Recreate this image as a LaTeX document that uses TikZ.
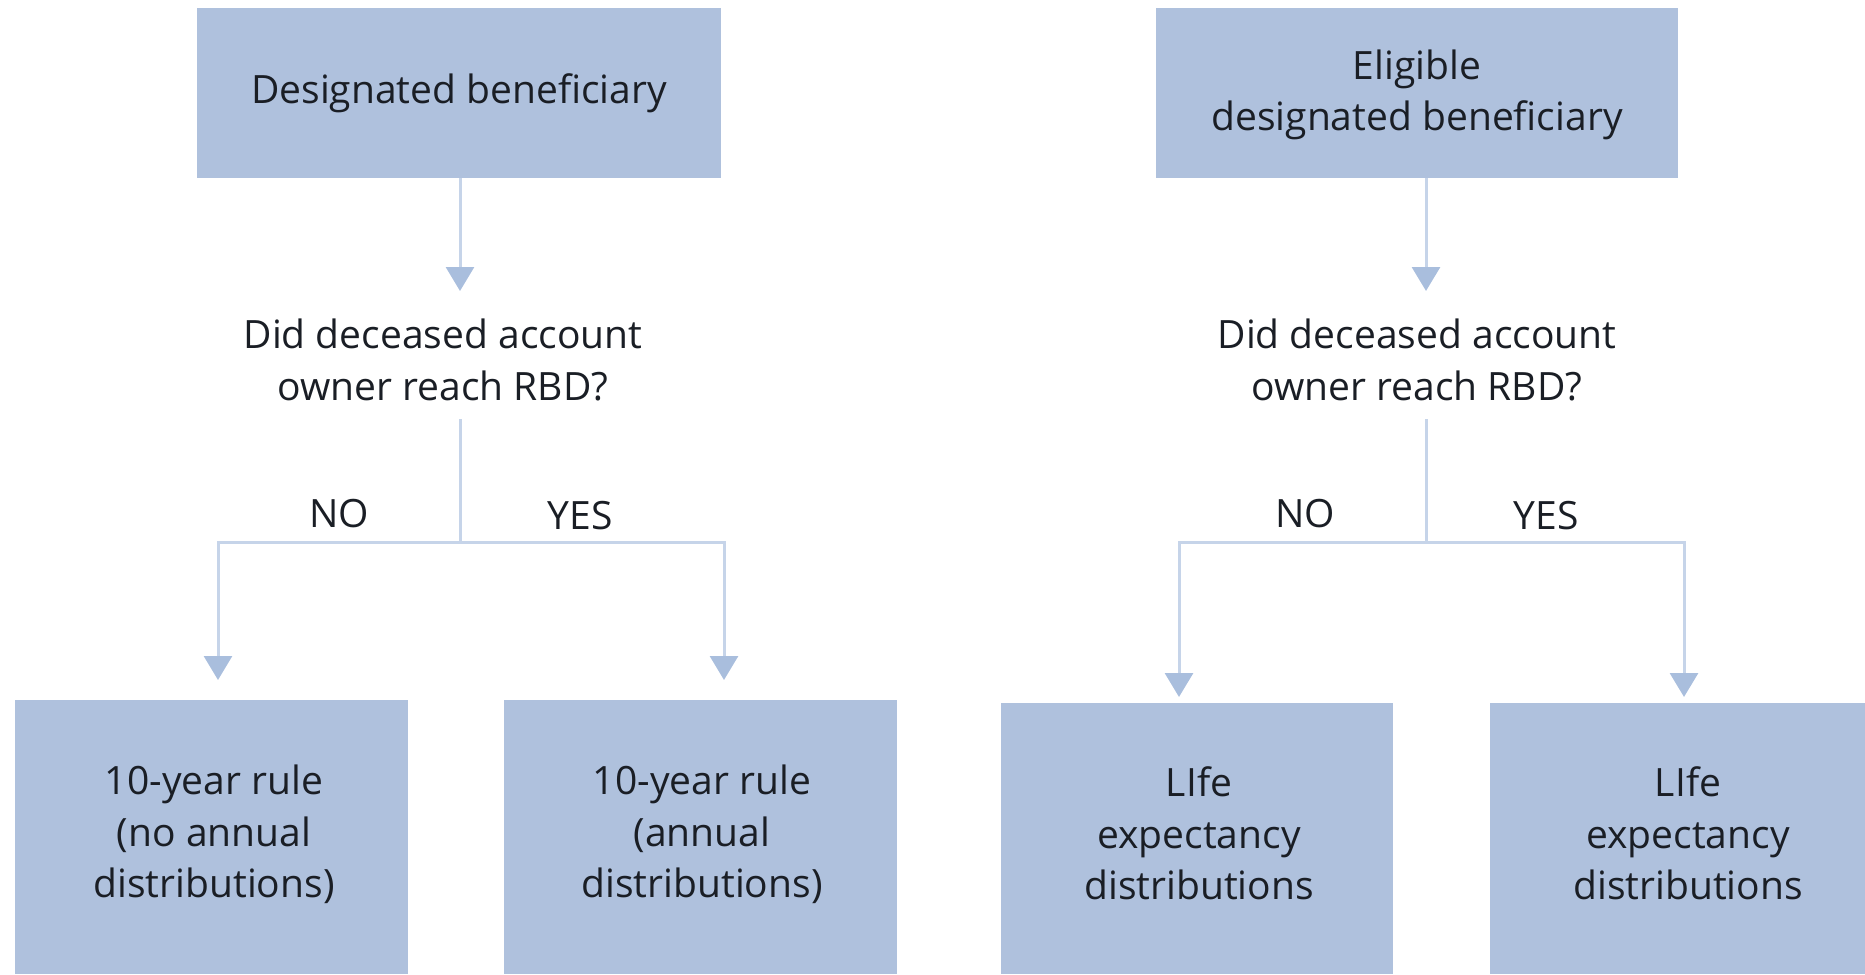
\documentclass[tikz,border=0pt]{standalone}
\usepackage{fontspec}
\setmainfont{Open Sans}
\usetikzlibrary{arrows.meta}
\definecolor{boxc}{HTML}{AFC1DD}
\definecolor{linec}{HTML}{C6D4E9}
\definecolor{tipc}{HTML}{A9BEDD}
\definecolor{txtc}{HTML}{1A1E25}
\tikzset{
  box/.style={fill=boxc, draw=none, inner sep=0pt, align=center, text=txtc,
    font=\fontsize{39}{51.5}\selectfont},
  lbl/.style={inner sep=0pt, align=center, text=txtc, font=\fontsize{39}{51.5}\selectfont},
  wire/.style={draw=linec, line width=3pt},
  conn/.style={wire, -{Triangle[width=28pt,length=24pt,color=tipc]}}
}
\begin{document}
\begin{tikzpicture}[x=1pt,y=-1pt]
\useasboundingbox (0,0) rectangle (1865,974);
\clip (0,0) rectangle (1865,974);
% top boxes
\node[box, minimum width=524pt, minimum height=170pt] (topL) at (459,93) {Designated beneficiary};
\node[box, minimum width=522pt, minimum height=170pt] (topR) at (1417,93) {};
\node[lbl] (topRt) at (1417,95) {Eligible\\designated beneficiary};
% questions
\node[lbl] (qL) at (443,360) {Did deceased account\\owner reach RBD?};
\node[lbl] (qR) at (1417,360) {Did deceased account\\owner reach RBD?};
% bottom boxes
\node[box, minimum width=393pt, minimum height=274pt] (b1) at (211.5,837) {};
\node[box, minimum width=393pt, minimum height=274pt] (b2) at (700.5,837) {};
\node[box, minimum width=392pt, minimum height=271pt] (b3) at (1197,838.5) {};
\node[box, minimum width=396pt, minimum height=271pt] (b4) at (1688,838.5) {};
\node[lbl] (t1) at (214,834.5) {10-year rule\\(no annual\\distributions)};
\node[lbl] (t2) at (702,834.5) {10-year rule\\(annual\\distributions)};
\node[lbl] (t3) at (1199,833.5) {LIfe\\expectancy\\distributions};
\node[lbl] (t4) at (1688,833.5) {LIfe\\expectancy\\distributions};
% labels
\node[lbl] (noL) at (339,514) {NO};
\node[lbl] (yesL) at (580,516) {YES};
\node[lbl] (noR) at (1305,514) {NO};
\node[lbl] (yesR) at (1546,516) {YES};
% coordinates
\coordinate (aL) at (460,291);
\coordinate (aR) at (1426,291);
\coordinate (sL) at (460,419);
\coordinate (jL) at (460,542);
\coordinate (sR) at (1426,419);
\coordinate (jR) at (1426,542);
\coordinate (e1) at (218,680);
\coordinate (e2) at (724,680);
\coordinate (e3) at (1179,697);
\coordinate (e4) at (1684,697);
% connectors
\draw[conn] (topL.south -| aL) -- (aL);
\draw[conn] (topR.south -| aR) -- (aR);
\draw[wire] (sL) -- (jL);
\draw[wire] (sR) -- (jR);
\draw[conn] (jL) -| (e1);
\draw[conn] (jL) -| (e2);
\draw[conn] (jR) -| (e3);
\draw[conn] (jR) -| (e4);
\end{tikzpicture}
\end{document}
